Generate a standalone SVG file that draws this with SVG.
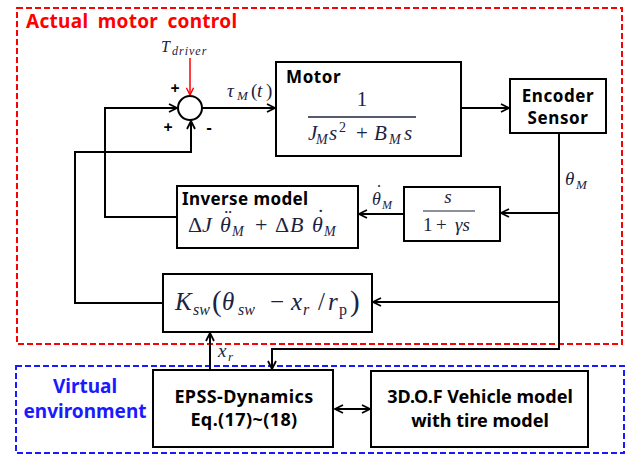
<svg xmlns="http://www.w3.org/2000/svg" width="630" height="455" viewBox="0 0 630 455">
<defs>
<style>
.box{fill:#fff;stroke:#000;stroke-width:2}
.ln{fill:none;stroke:#000;stroke-width:2}
.lbl{font-family:"Noto Sans","Open Sans",sans-serif;font-weight:bold;fill:#000}
.m{font-family:"Liberation Serif","DejaVu Serif",serif;font-style:italic;fill:#1c2340}
.mu{font-family:"Liberation Serif","DejaVu Serif",serif;font-style:normal;fill:#1c2340}
.up{font-style:normal}
.pm{font-family:"Noto Sans",sans-serif;font-weight:bold;font-size:16px;fill:#000}
</style>
<marker id="ah" viewBox="0 0 10 10" refX="9" refY="5" markerWidth="10" markerHeight="10" markerUnits="userSpaceOnUse" orient="auto-start-reverse">
<path d="M1,1 L9,5 L1,9" fill="none" stroke="#000" stroke-width="1.8"/>
</marker>
<marker id="ahr" viewBox="0 0 10 10" refX="9" refY="5" markerWidth="9" markerHeight="9" markerUnits="userSpaceOnUse" orient="auto">
<path d="M1,1 L9,5 L1,9" fill="none" stroke="#f00" stroke-width="1.6"/>
</marker>
</defs>
<rect width="630" height="455" fill="#fff"/>

<g id="actual-motor-control">
<rect x="17" y="8" width="605" height="336" fill="none" stroke="#f00" stroke-width="2" stroke-dasharray="6,3"/>
<text x="26" y="28" font-family="Noto Sans, sans-serif" font-weight="bold" font-size="19" fill="#f00" letter-spacing="0.3" word-spacing="4">Actual motor control</text>
</g>

<g id="virtual-environment">
<rect x="16" y="366" width="608" height="87" fill="none" stroke="#1a1aff" stroke-width="2" stroke-dasharray="6,3"/>
<text x="85" y="393" text-anchor="middle" font-family="Noto Sans, sans-serif" font-weight="bold" font-size="19" fill="#1a1aff">Virtual</text>
<text x="85" y="418" text-anchor="middle" font-family="Noto Sans, sans-serif" font-weight="bold" font-size="19" fill="#1a1aff">environment</text>
</g>

<g id="connectors">
<line x1="190" y1="58" x2="190" y2="95" fill="none" stroke="#f00" stroke-width="1.5" marker-end="url(#ahr)"/>
<line class="ln" x1="202" y1="108" x2="275" y2="108" marker-end="url(#ah)"/>
<line class="ln" x1="461" y1="108" x2="509" y2="108" marker-end="url(#ah)"/>
<polyline class="ln" points="559,133 559,349 272,349 272,369" marker-end="url(#ah)"/>
<line class="ln" x1="559" y1="213" x2="501" y2="213" marker-end="url(#ah)"/>
<line class="ln" x1="404" y1="214" x2="359" y2="214" marker-end="url(#ah)"/>
<polyline class="ln" points="177,217 105,217 105,108 177,108" marker-end="url(#ah)"/>
<line class="ln" x1="559" y1="302" x2="373" y2="302" marker-end="url(#ah)"/>
<polyline class="ln" points="163,303 75,303 75,152 191,152 191,121" marker-end="url(#ah)"/>
<line class="ln" x1="210" y1="370" x2="210" y2="333" marker-end="url(#ah)"/>
<line class="ln" x1="335" y1="409" x2="370" y2="409" marker-start="url(#ah)" marker-end="url(#ah)"/>
<text class="m" x="161" y="52" font-size="16">T<tspan x="172" y="55" font-size="12" letter-spacing="1">driver</tspan></text>
<text class="m" x="227" y="97" font-size="19">τ<tspan x="237" y="100" font-size="13">M</tspan><tspan class="up" x="251" y="97">(</tspan><tspan x="257">t</tspan><tspan class="up" x="266">)</tspan></text>
<text class="m" x="565" y="185" font-size="19">θ<tspan x="576" y="189" font-size="13">M</tspan></text>
<text class="m" x="372" y="205" font-size="18">θ<tspan class="up" x="376" y="198">˙</tspan><tspan x="382" y="209" font-size="12">M</tspan></text>
<text class="m" x="218" y="357" font-size="19">x<tspan x="228" y="361" font-size="13">r</tspan></text>
</g>

<g id="sum-junction">
<circle cx="190" cy="108" r="12" fill="#fff" stroke="#000" stroke-width="2"/>
<text class="pm" x="175" y="94" text-anchor="middle">+</text>
<text class="pm" x="168" y="133" text-anchor="middle">+</text>
<text class="pm" x="209" y="133" text-anchor="middle">-</text>
</g>

<g id="motor">
<rect class="box" x="276" y="62" width="185" height="94"/>
<text class="lbl" x="286" y="83" font-size="17" letter-spacing="0.6">Motor</text>
<text class="mu" x="362" y="106" font-size="21" text-anchor="middle">1</text>
<line x1="308" y1="117" x2="416" y2="117" stroke="#1c2340" stroke-width="1.3"/>
<text class="m" x="308" y="140" font-size="21">J<tspan x="316" y="144" font-size="14">M</tspan><tspan x="329" y="140">s</tspan><tspan class="up" x="339" y="132" font-size="14">2</tspan><tspan class="up" x="356" y="140">+</tspan><tspan x="374">B</tspan><tspan x="389" y="144" font-size="14">M</tspan><tspan x="404" y="140">s</tspan></text>
</g>

<g id="encoder">
<rect class="box" x="510" y="79" width="96" height="54"/>
<text class="lbl" x="558" y="102" font-size="17" letter-spacing="0.6" text-anchor="middle">Encoder</text>
<text class="lbl" x="558" y="124" font-size="17" letter-spacing="0.6" text-anchor="middle">Sensor</text>
</g>

<g id="filter">
<rect class="box" x="404" y="187" width="96" height="54"/>
<text class="m" x="448" y="203" font-size="19" text-anchor="middle">s</text>
<line x1="423" y1="211" x2="475" y2="211" stroke="#1c2340" stroke-width="1.2"/>
<text class="mu" x="423" y="231" font-size="19">1<tspan x="436">+</tspan><tspan class="m" x="455">γs</tspan></text>
</g>

<g id="inverse-model">
<rect class="box" x="177" y="186" width="181" height="62"/>
<text class="lbl" x="182" y="205" font-size="17" letter-spacing="0.4">Inverse model</text>
<text class="mu" x="188" y="232" font-size="22">Δ<tspan class="m" x="202">J</tspan><tspan class="m" x="220">θ</tspan><tspan x="224.5" y="224">¨</tspan><tspan class="m" x="232" y="236" font-size="14">M</tspan><tspan x="255" y="232">+</tspan><tspan x="275">Δ</tspan><tspan class="m" x="290">B</tspan><tspan class="m" x="312">θ</tspan><tspan x="317" y="224">˙</tspan><tspan class="m" x="324" y="236" font-size="14">M</tspan></text>
</g>

<g id="steering-gain">
<rect class="box" x="163" y="274" width="209" height="58"/>
<text class="m" x="175" y="310" font-size="25">K<tspan x="193" y="315" font-size="16">sw</tspan><tspan class="up" x="212" y="311" font-size="29">(</tspan><tspan x="222" y="310">θ</tspan><tspan x="238" y="315" font-size="16">sw</tspan><tspan class="up" x="270" y="310">−</tspan><tspan x="291">x</tspan><tspan x="303" y="315" font-size="16">r</tspan><tspan class="up" x="318" y="310">/</tspan><tspan x="328">r</tspan><tspan class="up" x="339" y="315" font-size="16">p</tspan><tspan class="up" x="350" y="311" font-size="29">)</tspan></text>
</g>

<g id="epss-dynamics">
<rect class="box" x="153" y="370" width="180" height="77"/>
<text class="lbl" x="244" y="403" font-size="18" letter-spacing="0.4" text-anchor="middle">EPSS-Dynamics</text>
<text class="lbl" x="244" y="426" font-size="18" letter-spacing="0.4" text-anchor="middle">Eq.(17)~(18)</text>
</g>

<g id="vehicle-model">
<rect class="box" x="371" y="371" width="217" height="76"/>
<text class="lbl" x="480" y="403" font-size="18" text-anchor="middle">3D.O.F Vehicle model</text>
<text class="lbl" x="480" y="427" font-size="18" text-anchor="middle">with tire model</text>
</g>
</svg>
